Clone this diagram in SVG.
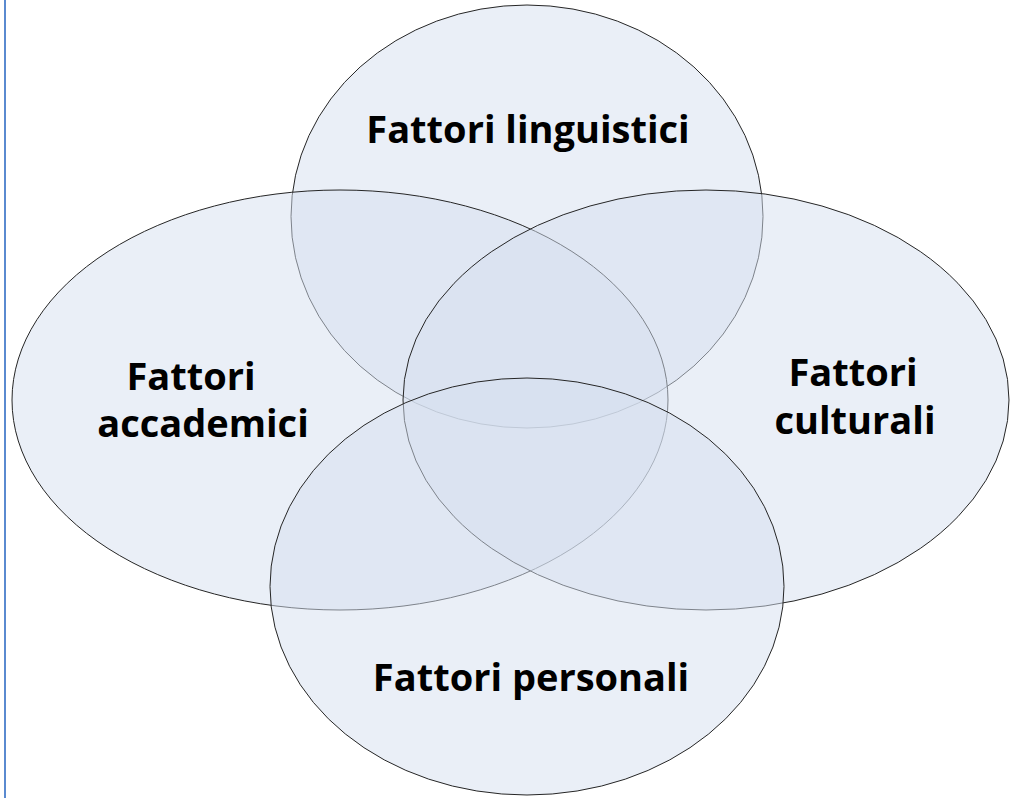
<svg xmlns="http://www.w3.org/2000/svg" width="1010" height="798" viewBox="0 0 1010 798">
<style>
.c{fill:#d5e0f0;fill-opacity:0.5;stroke:#262626;stroke-width:1}
.t{font-family:"Open Sans","Liberation Sans",sans-serif;font-weight:bold;font-size:38px;fill:#000;text-anchor:middle}
</style>
<rect width="1010" height="798" fill="#fff"/>
<line x1="5" y1="0" x2="5" y2="798" stroke="#5a8ad0" stroke-width="2"/>
<g id="linguistici">
<ellipse class="c" cx="527" cy="216.5" rx="236" ry="211.5"/>
</g>
<g id="accademici">
<ellipse class="c" cx="340" cy="400" rx="328" ry="210"/>
</g>
<g id="culturali">
<ellipse class="c" cx="706" cy="400" rx="303" ry="210"/>
</g>
<g id="personali">
<ellipse class="c" cx="527" cy="586.5" rx="257" ry="208.5"/>
</g>
<g id="labels">
<text class="t" x="528" y="143">Fattori linguistici</text>
<text class="t" x="191" y="390">Fattori</text>
<text class="t" x="203" y="437">accademici</text>
<text class="t" x="853" y="386">Fattori</text>
<text class="t" x="855" y="434">culturali</text>
<text class="t" x="531" y="691">Fattori personali</text>
</g>
</svg>
